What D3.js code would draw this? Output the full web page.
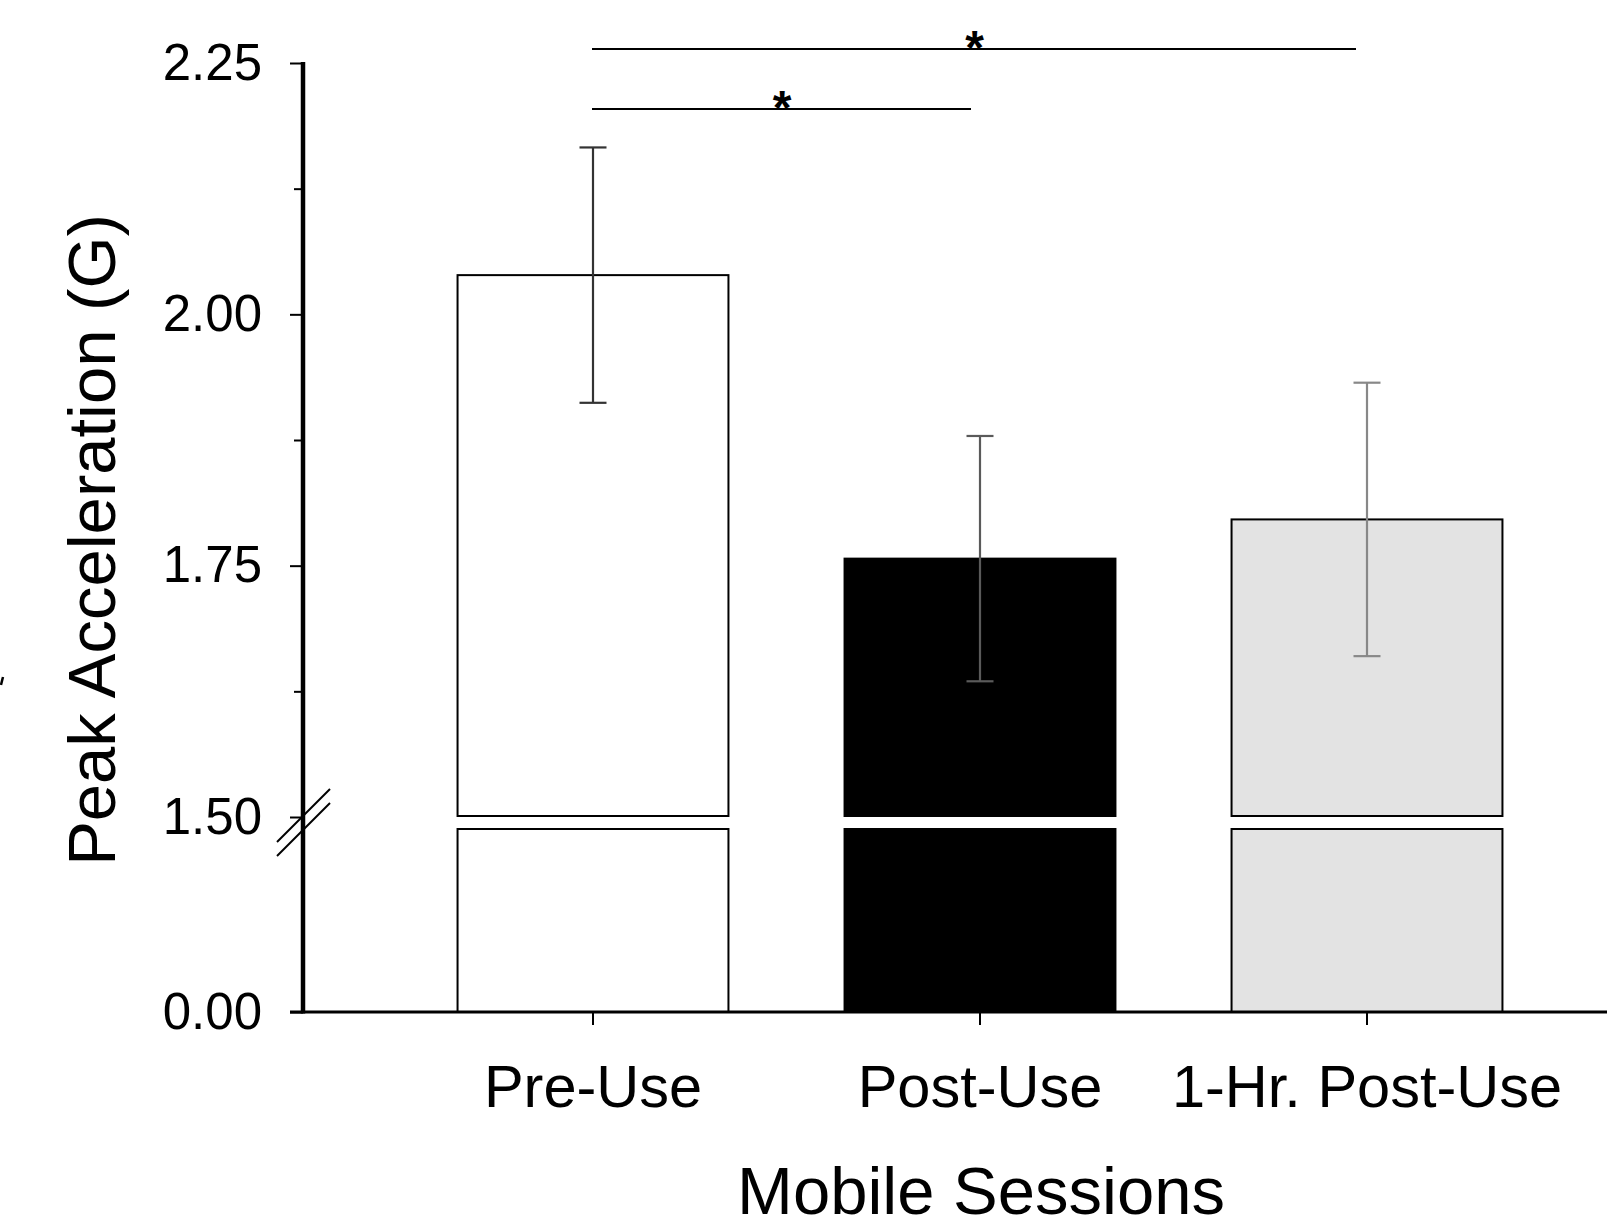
<!DOCTYPE html>
<html lang="en">
<head>
    <meta charset="UTF-8">
    <script type="text/javascript" src="https://cdn.jsdelivr.net/npm/d3@7"></script>
    <style type="text/css">
        * {
            margin: 0;
            padding: 0;
        }
        body {
            background-color: white;
            font-family: "Liberation Sans", Arial, Helvetica, sans-serif;
        }
        svg {
            display: block;
        }
    </style>
    <title>Peak Acceleration by Mobile Session</title>
</head>
<body>
    <div id="chartContainer"></div>

    <script>
        // data
        var sessions = ["Pre-Use", "Post-Use", "1-Hr. Post-Use"];
        var means = [2.039, 1.757, 1.796];
        var errors = [0.127, 0.122, 0.136];
        var majorTicks = [1.50, 1.75, 2.00, 2.25];
        var minorTicks = [1.625, 1.875, 2.125];
        // significance brackets: [from, to]
        var sigPairs = [["Pre-Use", "1-Hr. Post-Use"], ["Pre-Use", "Post-Use"]];

        var fills = ["#ffffff", "#000000", "#e3e3e3"];
        var errColors = ["#333333", "#5a5a5a", "#888888"];

        var w = 1607;
        var h = 1223;
        var axisX = 303;
        var baseY = 1012;

        var svg = d3.select("#chartContainer")
                    .append("svg")
                    .attr("width", w)
                    .attr("height", h);

        //scales
        var xScale = d3.scaleBand()
                    .domain(sessions)
                    .range([399.5, 1560.5])
                    .paddingInner(0.3)
                    .paddingOuter(0.15);

        // upper part of the broken axis
        var yTop = d3.scaleLinear()
                    .domain([1.5, 2.25])
                    .range([817, 63]);

        // lower part, below the break
        var yLow = d3.scaleLinear()
                    .domain([0, 1.5])
                    .range([baseY, 829]);

        var bars = sessions.map(function(s, i) {
            return {name: s, mean: means[i], err: errors[i], fill: fills[i], ec: errColors[i]};
        });

        //upper bar segments
        svg.append("g")
            .selectAll("rect")
            .data(bars)
            .enter()
            .append("rect")
            .attr("x", function(d) { return xScale(d.name); })
            .attr("y", function(d) { return yTop(d.mean); })
            .attr("width", xScale.bandwidth())
            .attr("height", function(d) { return yTop(1.5) - yTop(d.mean) - 1; })
            .attr("fill", function(d) { return d.fill; })
            .attr("stroke", "#000")
            .attr("stroke-width", 2);

        //lower bar segments
        svg.append("g")
            .selectAll("rect")
            .data(bars)
            .enter()
            .append("rect")
            .attr("x", function(d) { return xScale(d.name); })
            .attr("y", function(d) { return yLow(Math.min(d.mean, 1.5)); })
            .attr("width", xScale.bandwidth())
            .attr("height", function(d) { return yLow(0) - yLow(Math.min(d.mean, 1.5)); })
            .attr("fill", function(d) { return d.fill; })
            .attr("stroke", "#000")
            .attr("stroke-width", 2);

        //error bars
        var eb = svg.append("g")
            .selectAll("g")
            .data(bars)
            .enter()
            .append("g")
            .attr("stroke", function(d) { return d.ec; })
            .attr("stroke-width", 2.2);

        eb.append("line")
            .attr("x1", function(d) { return xScale(d.name) + xScale.bandwidth() / 2; })
            .attr("x2", function(d) { return xScale(d.name) + xScale.bandwidth() / 2; })
            .attr("y1", function(d) { return yTop(d.mean + d.err); })
            .attr("y2", function(d) { return yTop(d.mean - d.err); });

        [1, -1].forEach(function(sign) {
            eb.append("line")
                .attr("x1", function(d) { return xScale(d.name) + xScale.bandwidth() / 2 - 13.5; })
                .attr("x2", function(d) { return xScale(d.name) + xScale.bandwidth() / 2 + 13.5; })
                .attr("y1", function(d) { return yTop(d.mean + sign * d.err); })
                .attr("y2", function(d) { return yTop(d.mean + sign * d.err); });
        });

        //y axis (upper)
        var yAxis = d3.axisLeft(yTop)
                    .tickValues(majorTicks)
                    .tickFormat(d3.format(".2f"))
                    .tickSize(13)
                    .tickPadding(28);

        var gy = svg.append("g")
            .attr("transform", "translate(" + axisX + ",0)")
            .call(yAxis);
        gy.select(".domain").remove();
        gy.selectAll(".tick line").attr("stroke-width", 2);
        gy.selectAll("text")
            .attr("font-size", "51px")
            .attr("font-family", "Liberation Sans, Arial, sans-serif")
            .attr("fill", "#000");

        var gyMinor = svg.append("g")
            .attr("transform", "translate(" + axisX + ",0)")
            .call(d3.axisLeft(yTop).tickValues(minorTicks).tickFormat("").tickSize(9));
        gyMinor.select(".domain").remove();
        gyMinor.selectAll(".tick line").attr("stroke-width", 2);

        //y axis (lower), only the zero tick
        var gyLow = svg.append("g")
            .attr("transform", "translate(" + axisX + ",0)")
            .call(d3.axisLeft(yLow).tickValues([0]).tickFormat(d3.format(".2f")).tickSize(13).tickPadding(28));
        gyLow.select(".domain").remove();
        gyLow.selectAll(".tick line").attr("stroke-width", 2);
        gyLow.selectAll("text")
            .attr("font-size", "51px")
            .attr("font-family", "Liberation Sans, Arial, sans-serif")
            .attr("fill", "#000");

        //y axis spine
        svg.append("line")
            .attr("x1", axisX).attr("x2", axisX)
            .attr("y1", yTop(2.25) - 1).attr("y2", baseY + 1.5)
            .attr("stroke", "#000")
            .attr("stroke-width", 4.5);

        //break marks
        [842, 856].forEach(function(y0) {
            svg.append("line")
                .attr("x1", 277).attr("y1", y0)
                .attr("x2", 330).attr("y2", y0 - 53)
                .attr("stroke", "#000")
                .attr("stroke-width", 2);
        });

        //x axis
        var xAxis = d3.axisBottom(xScale)
                    .tickSize(13)
                    .tickPadding(40);

        var gx = svg.append("g")
            .attr("transform", "translate(0," + baseY + ")")
            .call(xAxis);
        gx.select(".domain").remove();
        gx.selectAll(".tick line").attr("stroke-width", 2);
        gx.selectAll("text")
            .attr("font-size", "59.5px")
            .attr("font-family", "Liberation Sans, Arial, sans-serif")
            .attr("fill", "#000");

        svg.append("line")
            .attr("x1", 290).attr("x2", w)
            .attr("y1", baseY).attr("y2", baseY)
            .attr("stroke", "#000")
            .attr("stroke-width", 3);

        //significance brackets
        var sigY = [49, 109];
        var sigOffset = [-11, -9];
        sigPairs.forEach(function(p, i) {
            var x1 = xScale(p[0]) + xScale.bandwidth() / 2;
            var x2 = xScale(p[1]) + xScale.bandwidth() / 2 + sigOffset[i];
            svg.append("line")
                .attr("x1", x1 - 1).attr("x2", x2)
                .attr("y1", sigY[i]).attr("y2", sigY[i])
                .attr("stroke", "#000")
                .attr("stroke-width", 2);
            svg.append("text")
                .attr("x", (x1 + x2) / 2)
                .attr("y", sigY[i] + 15)
                .attr("text-anchor", "middle")
                .attr("font-size", "48px")
                .attr("font-weight", "bold")
                .text("*");
        });

        //axis titles
        svg.append("text")
            .attr("transform", "translate(115,540) rotate(-90)")
            .attr("text-anchor", "middle")
            .attr("font-size", "67px")
            .text("Peak Acceleration (G)");

        svg.append("text")
            .attr("x", 981)
            .attr("y", 1214)
            .attr("text-anchor", "middle")
            .attr("font-size", "67px")
            .text("Mobile Sessions");

        // stray mark at the left edge of the original figure
        svg.append("line")
            .attr("x1", 1).attr("y1", 685)
            .attr("x2", 3).attr("y2", 677)
            .attr("stroke", "#000")
            .attr("stroke-width", 2.5);
    </script>
</body>
</html>
